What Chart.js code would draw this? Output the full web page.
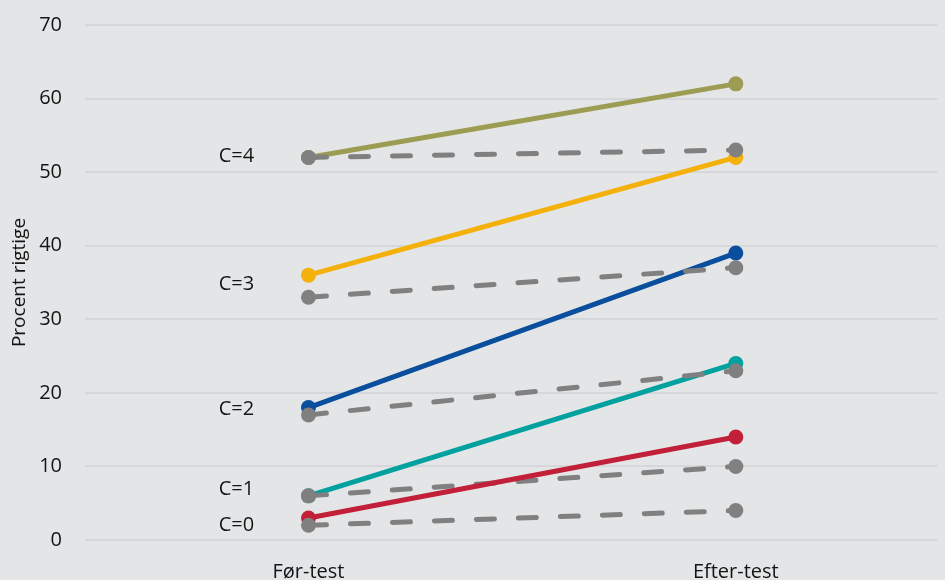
<!DOCTYPE html>
<html>
<head>
<meta charset="utf-8">
<script src="https://cdn.jsdelivr.net/npm/chart.js@4"></script>
<style>
  html, body { margin: 0; padding: 0; background: #e3e5e7; }
  #wrap { width: 945px; height: 580px; position: relative; }
</style>
</head>
<body>
<div id="wrap"><canvas id="c" width="945" height="580"></canvas></div>
<script>
// Test moments on the x axis
const categories = ['Før-test', 'Efter-test'];
// Group names drawn beside the first test
const groupLabels = ['C=0', 'C=1', 'C=2', 'C=3', 'C=4'];
// Height (in percent) where each group name sits
const groupLabelValues = [2.0, 6.9, 17.7, 34.8, 52.2];

// Solid lines: percent correct per group
const solidC0 = [3, 14];
const solidC1 = [6, 24];
const solidC2 = [18, 39];
const solidC3 = [36, 52];
const solidC4 = [52, 62];

// Dashed lines: comparison per group
const dashC0 = [2, 4];
const dashC1 = [6, 10];
const dashC2 = [17, 23];
const dashC3 = [33, 37];
const dashC4 = [52, 53];

const yTicks = [0, 10, 20, 30, 40, 50, 60, 70];

const FONT = "'Open Sans', 'Noto Sans', sans-serif";
const TEXT = '#141414';
const GRAY = '#808080';

function pts(arr) { return arr.map((v, i) => ({ x: i, y: v })); }

function solid(data, color, order) {
  return {
    data: pts(data), borderColor: color, backgroundColor: color,
    borderWidth: 5, pointRadius: 7.5, pointHoverRadius: 7.5,
    pointBorderWidth: 0, borderCapStyle: 'round', order
  };
}
function dashed(data, order) {
  return {
    data: pts(data), borderColor: GRAY, backgroundColor: GRAY,
    borderWidth: 5, borderDash: [18, 24], borderCapStyle: 'round',
    pointRadius: 7.5, pointHoverRadius: 7.5, pointBorderWidth: 0, order
  };
}

// Writes the group names to the left of the first test
const groupLabelPlugin = {
  id: 'groupLabels',
  afterDatasetsDraw(chart) {
    const { ctx, scales } = chart;
    ctx.save();
    ctx.font = '20px ' + FONT;
    ctx.fillStyle = TEXT;
    ctx.textAlign = 'center';
    ctx.textBaseline = 'middle';
    const x = scales.x.getPixelForValue(0) - 72;
    groupLabels.forEach((t, i) => {
      ctx.fillText(t, x, scales.y.getPixelForValue(groupLabelValues[i]));
    });
    ctx.restore();
  }
};

new Chart(document.getElementById('c'), {
  type: 'line',
  data: {
    // lower order values are painted on top
    datasets: [
      dashed(dashC0, 1),
      solid(solidC0, '#c21f38', 2),
      dashed(dashC1, 3),
      dashed(dashC2, 4),
      dashed(dashC3, 5),
      dashed(dashC4, 6),
      solid(solidC1, '#00a19e', 7),
      solid(solidC2, '#0a4f9e', 8),
      solid(solidC3, '#f4b10b', 9),
      solid(solidC4, '#9c9c52', 10)
    ]
  },
  options: {
    responsive: false,
    animation: false,
    events: [],
    layout: { padding: { top: 25, right: 0, bottom: 0, left: 0 } },
    plugins: { legend: { display: false }, tooltip: { enabled: false } },
    scales: {
      x: {
        type: 'linear', min: -0.523, max: 1.472,
        afterBuildTicks(s) { s.ticks = categories.map((_, i) => ({ value: i })); },
        ticks: {
          callback: (v) => categories[v],
          font: { family: FONT, size: 20 }, color: TEXT,
          padding: 12, maxRotation: 0, autoSkip: false
        },
        grid: { display: false },
        border: { display: false },
        afterFit(s) { s.height = 40; }
      },
      y: {
        min: 0, max: 70,
        afterBuildTicks(s) { s.ticks = yTicks.map(v => ({ value: v })); },
        ticks: {
          font: { family: FONT, size: 20 }, color: TEXT, padding: 23
        },
        grid: { color: '#d5d7da', lineWidth: 2, drawTicks: false },
        border: { display: false },
        title: {
          display: true, text: 'Procent rigtige',
          font: { family: FONT, size: 19 }, color: TEXT,
          padding: { top: 8, bottom: 0 }
        },
        afterFit(s) {
          s.width = 85;
          // let the layout padding alone decide the top of the plot
          s.paddingTop = 0;
          s.paddingBottom = 0;
        }
      }
    }
  },
  plugins: [groupLabelPlugin]
});
</script>
</body>
</html>
